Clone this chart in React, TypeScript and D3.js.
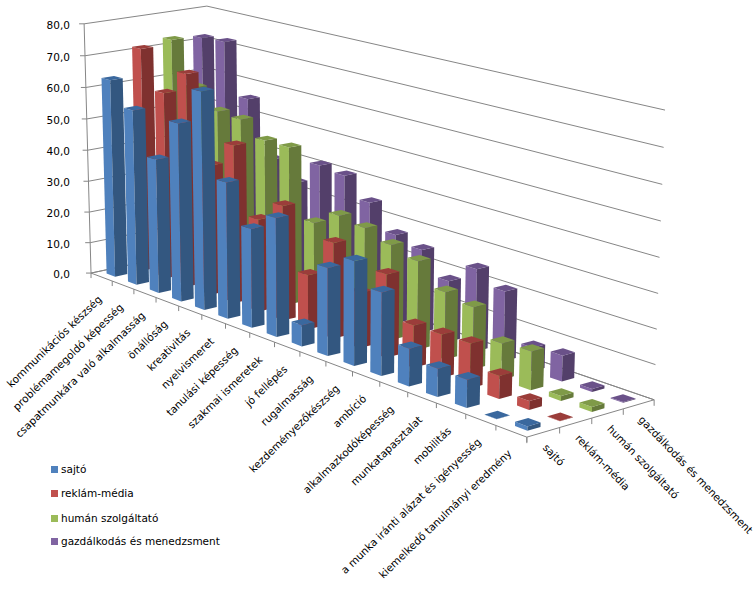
import React from "react";
import * as d3 from "d3";

const categories = ["kommunikációs készség","problémamegoldó képesség","csapatmunkára való alkalmasság","önállóság","kreativitás","nyelvismeret","tanulási képesség","szakmai ismeretek","jó fellépés","rugalmasság","kezdeményezőkészség","ambíció","alkalmazkodóképesség","munkatapasztalat","mobilitás","a munka iránti alázat és igényesség","kiemelkedő tanulmányi eredmény"];
const seriesNames = ["sajtó","reklám-média","humán szolgáltató","gazdálkodás és menedzsment"];
const sajto = [63.1,55.6,42.3,55.6,67.3,41.9,30.2,35.9,6.4,26.1,30.7,24.3,10.9,8.1,8.0,0.1,1.2];
const reklam = [71.4,59.3,67.2,40.8,49.2,28.6,35.2,16.6,28.9,16.5,24.7,12.4,12.6,12.9,6.6,2.5,0.1];
const human = [72.8,59.6,53.9,53.4,48.9,48.9,28.0,32.6,31.3,28.7,26.4,19.9,18.2,10.5,11.1,1.4,1.4];
const gazd = [71.9,72.4,56.1,39.0,33.9,41.5,40.6,34.6,27.2,25.1,18.3,24.5,20.6,6.9,7.5,0.9,0.2];
const values = [sajto,reklam,human,gazd];
const ticks = [0,10,20,30,40,50,60,70,80];
const faces = [["#4F81BD","#335780","#3A689E"],["#C0504D","#7F312F","#9B3D3A"],["#9BBB59","#667A3B","#7F9A48"],["#8064A2","#533F6A","#6A5189"]];

const calib: [number,number,number,number,number][] = [
  [0,0,0,91,273],[0,0,1,84,24],[1,0,0,527,437],[1,1,0,654,400],[1,1,1,665,110],[0,1,1,207,6],
];
function solveP(){
  const A:number[][]=[],b:number[]=[];
  for(const [u,v,w,x,y] of calib){
    A.push([u,v,w,1,0,0,0,0,-x*u,-x*v,-x*w]);b.push(x);
    A.push([0,0,0,0,u,v,w,1,-y*u,-y*v,-y*w]);b.push(y);
  }
  const n=11;
  const N=Array.from({length:n},(_,i)=>{
    const r=Array.from({length:n},(_,j)=>d3.sum(A,a=>a[i]*a[j])+(i===j?1e-9:0));
    r.push(d3.sum(A,(a,k)=>a[i]*b[k]));return r;});
  for(let i=0;i<n;i++){
    let m=i;for(let k=i+1;k<n;k++)if(Math.abs(N[k][i])>Math.abs(N[m][i]))m=k;
    [N[i],N[m]]=[N[m],N[i]];
    for(let k=0;k<n;k++)if(k!==i){const f=N[k][i]/N[i][i];for(let j=i;j<=n;j++)N[k][j]-=f*N[i][j];}
  }
  const s=N.map((r,i)=>r[n]/r[i]);
  return [[s[0],s[1],s[2],s[3]],[s[4],s[5],s[6],s[7]],[s[8],s[9],s[10],1]];
}
const P=solveP();
const proj=(u:number,v:number,w:number):[number,number]=>{
  const d=P[2][0]*u+P[2][1]*v+P[2][2]*w+P[2][3];
  return [(P[0][0]*u+P[0][1]*v+P[0][2]*w+P[0][3])/d,(P[1][0]*u+P[1][1]*v+P[1][2]*w+P[1][3])/d];
};

const xB=d3.scaleBand<string>().domain(categories).range([0,1]).paddingInner(0.6).paddingOuter(0.3);
const zB=d3.scaleBand<string>().domain(seriesNames).range([0,1]).paddingInner(0.6).paddingOuter(0.3);
const yS=d3.scaleLinear().domain([0,80]).range([0,1]);
const pts=(a:[number,number][])=>a.map(p=>p[0].toFixed(1)+","+p[1].toFixed(1)).join(" ");
const font="'DejaVu Sans'";
export default function App(){
  const bars:React.ReactNode[]=[];
  for(let s=3;s>=0;s--)for(let c=0;c<17;c++){
    const u0=xB(categories[c])!,u1=u0+xB.bandwidth(),v0=zB(seriesNames[s])!,v1=v0+zB.bandwidth(),w=yS(values[s][c]);
    bars.push(<g key={s+"-"+c}>
      <polygon points={pts([proj(u0,v0,0),proj(u1,v0,0),proj(u1,v0,w),proj(u0,v0,w)])} fill={faces[s][0]}/>
      <polygon points={pts([proj(u1,v0,0),proj(u1,v1,0),proj(u1,v1,w),proj(u1,v0,w)])} fill={faces[s][1]}/>
      <polygon points={pts([proj(u0,v0,w),proj(u1,v0,w),proj(u1,v1,w),proj(u0,v1,w)])} fill={faces[s][2]}/>
    </g>);
  }
  const ln=(a:[number,number],b:[number,number],k:string)=><line key={k} x1={a[0]} y1={a[1]} x2={b[0]} y2={b[1]} stroke="#868686"/>;
  const grid=ticks.flatMap(t=>{const w=yS(t);return [ln(proj(0,0,w),proj(0,1,w),"l"+t),ln(proj(0,1,w),proj(1,1,w),"r"+t)];});
  return <svg width={755} height={592} style={{position:"absolute",left:0,top:0,background:"#fff"}} fontFamily={font} fontSize={10.5}>
    {grid}
    {ln(proj(0,0,0),proj(0,0,1),"ax")}
    {ln(proj(0,0,0),proj(1,0,0),"f1")}
    {ln(proj(1,0,0),proj(1,1,0),"f2")}
    {ln(proj(1,1,0),proj(0,1,0),"f3")}
    {ln(proj(0,0,0),proj(0,1,0),"f4")}
    {bars}
    {ticks.map(t=>{const p=proj(0,0,yS(t));return <g key={t}><line x1={p[0]-5} y1={p[1]} x2={p[0]} y2={p[1]} stroke="#868686"/><text x={70} y={p[1]+5} textAnchor="end">{t.toFixed(1).replace(".",",")}</text></g>;})}
    {d3.range(18).map(i=>{const p=proj(i/17,0,0);return <line key={i} x1={p[0]} y1={p[1]} x2={p[0]} y2={p[1]+5} stroke="#868686"/>;})}
    {d3.range(5).map(i=>{const p=proj(1,i/4,0);return <line key={i} x1={p[0]} y1={p[1]} x2={p[0]} y2={p[1]+6} stroke="#868686"/>;})}
    {categories.map((c,i)=>{const p=proj((i+.5)/17,0,0);return <text key={c} transform={`translate(${p[0]+1},${p[1]+23}) rotate(-44)`} textAnchor="end">{c}</text>;})}
    {seriesNames.map((c,i)=>{const p=proj(1,(i+.5)/4,0);return <text key={c} transform={`translate(${p[0]-1},${p[1]+16}) rotate(46)`}>{c}</text>;})}
    {seriesNames.map((c,i)=><g key={c}><rect x={51} y={[466,490,515,538][i]} width={7} height={7} fill={faces[i][0]}/><text x={61} y={[466,490,515,538][i]+7}>{c}</text></g>)}
  </svg>;
}
